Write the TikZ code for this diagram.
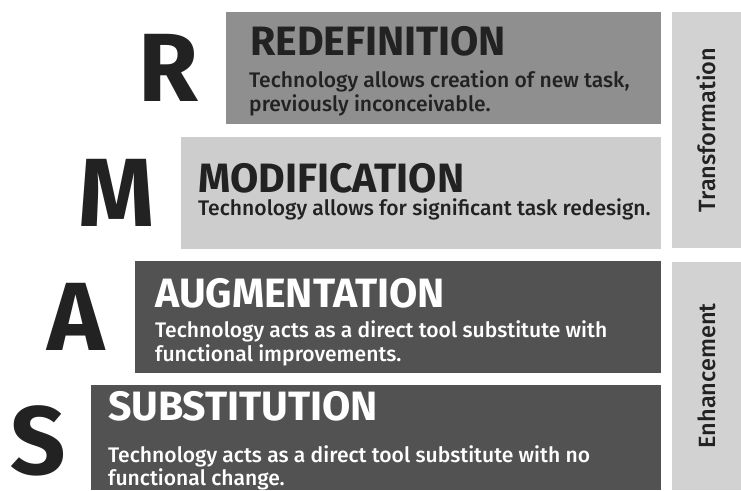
\documentclass[tikz,border=0pt]{standalone}
\usepackage{fontspec}
\setmainfont{Fira Sans}
\newfontfamily\medfont{Fira Sans Medium}
\definecolor{midgray}{HTML}{8F8F8F}
\definecolor{lightgray}{HTML}{CDCDCD}
\definecolor{darkgray}{HTML}{525252}
\definecolor{sidegray}{HTML}{D2D2D2}
\definecolor{ink}{HTML}{222222}
\begin{document}
\begin{tikzpicture}[x=1pt,y=-1pt,
  panel/.style={anchor=north west, inner sep=0, outer sep=0, draw=none},
  letter/.style={anchor=base, inner sep=0, text depth=0pt, text=ink, font=\fontsize{97}{97}\selectfont\bfseries},
  title/.style={anchor=base west, inner sep=0, font=\fontsize{41}{41}\selectfont\bfseries},
  body/.style={anchor=base west, inner sep=0, font=\fontsize{21.1}{24}\selectfont\medfont},
  side/.style={rotate=90, inner sep=0, text=ink, font=\fontsize{23.5}{24}\selectfont\medfont}]
\useasboundingbox (0,0) rectangle (741,490);
% level panels
\node[panel, fill=midgray, minimum width=435pt, minimum height=112pt] (rbox) at (226,12) {};
\node[panel, fill=lightgray, minimum width=480pt, minimum height=112pt] (mbox) at (181,137) {};
\node[panel, fill=darkgray, minimum width=526pt, minimum height=112pt] (abox) at (135,261) {};
\node[panel, fill=darkgray, minimum width=570pt, minimum height=105pt] (sbox) at (91,385) {};
% side bands
\node[panel, fill=sidegray, minimum width=69pt, minimum height=236pt] (tbox) at (672,12) {};
\node[panel, fill=sidegray, minimum width=69pt, minimum height=228pt] (ebox) at (672,262) {};
\node[side] (tlabel) at (tbox.center) {Transformation};
\node[side] (elabel) at (ebox.center) {Enhancement};
% initials
\node[letter] (rl) at (168,101) {R};
\node[letter] (ml) at (116.5,226) {M};
\node[letter] (al) at (76.5,350) {A};
\node[letter] (sl) at (38,474) {S};
% titles and descriptions
\node[title, text=ink] (rt) at (250,55) {REDEFINITION};
\node[body, text=ink] (rd1) at (249,87) {Technology allows creation of new task,};
\node[body, text=ink] (rd2) at (249,111) {previously inconceivable.};
\node[title, text=ink] (mt) at (198,192) {MODIFICATION};
\node[body, text=ink] (md) at (198,215) {Technology allows for significant task redesign.};
\node[title, text=white] (at) at (155,307) {AUGMENTATION};
\node[body, text=white] (ad1) at (155,337) {Technology acts as a direct tool substitute with};
\node[body, text=white] (ad2) at (155,361) {functional improvements.};
\node[title, text=white] (st) at (108,420) {SUBSTITUTION};
\node[body, text=white] (sd1) at (108,462) {Technology acts as a direct tool substitute with no};
\node[body, text=white] (sd2) at (108,485) {functional change.};
\end{tikzpicture}
\end{document}
